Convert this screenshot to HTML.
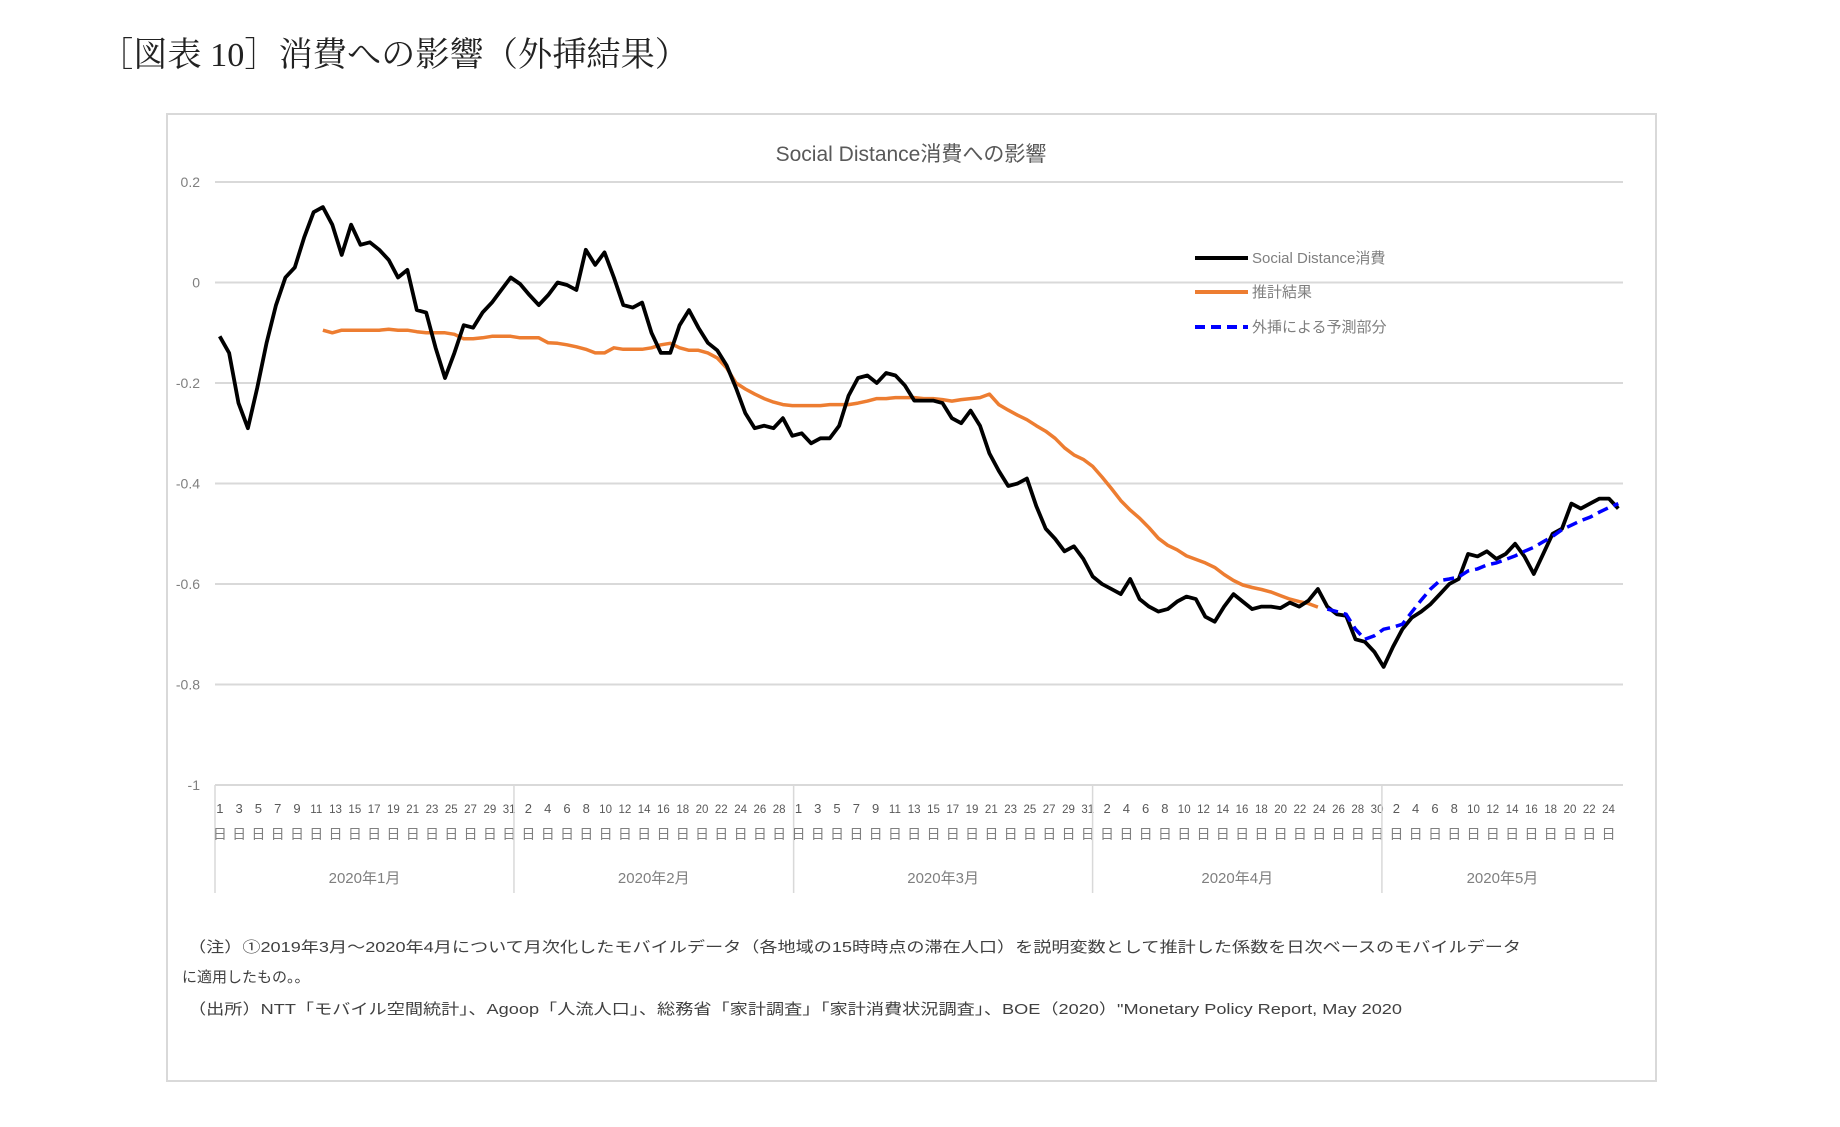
<!DOCTYPE html>
<html><head><meta charset="utf-8"><style>
html,body{margin:0;padding:0;background:#fff;width:1840px;height:1127px;overflow:hidden}
svg{display:block}
</style></head><body>
<svg id="chart" width="1840" height="1127" viewBox="0 0 1840 1127" xmlns="http://www.w3.org/2000/svg">
<text x="99" y="66" font-family="'Liberation Serif','Noto Serif CJK SC',serif" font-size="34" fill="#222" textLength="590" lengthAdjust="spacingAndGlyphs">［図表 10］消費への影響（外挿結果）</text>
<rect x="167" y="114" width="1489" height="967" fill="#fff" stroke="#d9d9d9" stroke-width="2"/>
<text x="911" y="161" text-anchor="middle" font-family="'Liberation Sans','Noto Sans CJK JP',sans-serif" font-size="21" fill="#595959">Social Distance消費への影響</text>
<g id="grid"></g><g id="xaxis"></g><g id="series"></g>
<g font-family="'Liberation Sans','Noto Sans CJK JP',sans-serif" font-size="15" fill="#7f7f7f">
<line x1="1195" y1="258" x2="1248" y2="258" stroke="#000" stroke-width="4"/>
<text x="1252" y="263">Social Distance消費</text>
<line x1="1195" y1="292" x2="1248" y2="292" stroke="#ed7d31" stroke-width="4"/>
<text x="1252" y="297">推計結果</text>
<line x1="1195" y1="327" x2="1248" y2="327" stroke="#0000ff" stroke-width="4" stroke-dasharray="10,6"/>
<text x="1252" y="332">外挿による予測部分</text>
</g>
<g font-family="'Liberation Sans','Noto Sans CJK JP',sans-serif" font-size="15" fill="#404040">
<text x="188" y="952" textLength="1333" lengthAdjust="spacingAndGlyphs">（注）①2019年3月～2020年4月について月次化したモバイルデータ（各地域の15時時点の滞在人口）を説明変数として推計した係数を日次ベースのモバイルデータ</text>
<text x="182" y="982">に適用したもの。。</text>
<text x="188" y="1014" textLength="1214" lengthAdjust="spacingAndGlyphs">（出所）NTT「モバイル空間統計」、Agoop「人流人口」、総務省「家計調査」「家計消費状況調査」、BOE（2020）"Monetary Policy Report, May 2020</text>
</g>
</svg>
<script>
const yTicks=[0.2,0,-0.2,-0.4,-0.6,-0.8,-1];
const yTickLabels=["0.2","0","-0.2","-0.4","-0.6","-0.8","-1"];
const months=["2020年1月","2020年2月","2020年3月","2020年4月","2020年5月"];
const monthDays=[31,29,31,30,25];
const socialDistance=[-0.107,-0.14,-0.24,-0.29,-0.21,-0.12,-0.045,0.01,0.03,0.09,0.14,0.15,0.115,0.055,0.115,0.075,0.08,0.065,0.045,0.01,0.025,-0.055,-0.06,-0.13,-0.19,-0.14,-0.085,-0.09,-0.06,-0.04,-0.015,0.01,
-0.003,-0.025,-0.045,-0.025,0.0,-0.005,-0.015,0.065,0.035,0.06,0.01,-0.045,-0.05,-0.04,-0.1,-0.14,-0.14,-0.085,-0.055,-0.09,-0.12,-0.135,-0.165,-0.21,-0.26,-0.29,-0.285,-0.29,-0.27,
-0.305,-0.30,-0.32,-0.31,-0.31,-0.285,-0.225,-0.19,-0.185,-0.2,-0.18,-0.185,-0.205,-0.235,-0.235,-0.235,-0.24,-0.27,-0.28,-0.255,-0.285,-0.34,-0.375,-0.405,-0.40,-0.39,-0.445,-0.49,-0.51,-0.535,-0.525,-0.55,
-0.585,-0.60,-0.61,-0.62,-0.59,-0.63,-0.645,-0.655,-0.65,-0.635,-0.625,-0.63,-0.665,-0.675,-0.645,-0.62,-0.635,-0.65,-0.645,-0.645,-0.648,-0.637,-0.645,-0.633,-0.61,-0.645,-0.66,-0.663,-0.71,-0.715,-0.735,
-0.765,-0.725,-0.69,-0.667,-0.655,-0.64,-0.62,-0.60,-0.59,-0.54,-0.545,-0.535,-0.55,-0.54,-0.52,-0.545,-0.58,-0.54,-0.5,-0.49,-0.44,-0.45,-0.44,-0.43,-0.43,-0.45];
const estimateStart=11;
const estimate=[-0.095,-0.10,-0.095,-0.095,-0.095,-0.095,-0.095,-0.093,-0.095,-0.095,-0.098,-0.10,-0.10,-0.10,-0.103,-0.112,-0.112,-0.11,-0.107,-0.107,-0.107,-0.11,-0.11,-0.11,-0.12,-0.121,-0.124,-0.128,-0.133,-0.14,-0.14,-0.13,-0.133,-0.133,-0.133,-0.13,-0.124,-0.121,-0.13,-0.135,-0.135,-0.14,-0.15,-0.17,-0.2,-0.212,-0.222,-0.231,-0.238,-0.243,-0.245,-0.245,-0.245,-0.245,-0.243,-0.243,-0.243,-0.24,-0.236,-0.231,-0.231,-0.229,-0.229,-0.229,-0.231,-0.231,-0.233,-0.236,-0.233,-0.231,-0.229,-0.222,-0.243,-0.254,-0.264,-0.273,-0.285,-0.296,-0.31,-0.329,-0.343,-0.352,-0.366,-0.387,-0.41,-0.434,-0.453,-0.469,-0.488,-0.509,-0.523,-0.532,-0.544,-0.551,-0.558,-0.567,-0.581,-0.593,-0.602,-0.607,-0.611,-0.616,-0.623,-0.63,-0.635,-0.639,-0.646];
const forecastStart=118;
const forecast=[-0.65,-0.655,-0.66,-0.69,-0.71,-0.703,-0.69,-0.686,-0.68,-0.656,-0.632,-0.61,-0.593,-0.59,-0.586,-0.574,-0.57,-0.562,-0.558,-0.551,-0.544,-0.535,-0.527,-0.516,-0.505,-0.492,-0.483,-0.474,-0.467,-0.457,-0.448,-0.44];

const NS="http://www.w3.org/2000/svg";
const L=215,R=1623,Y0=182,Y1=785;
const N=socialDistance.length;
const xS=i=>L+(i+0.5)*(R-L)/N;
const yS=v=>Y0+(0.2-v)/1.2*(Y1-Y0);
function mk(tag,attrs,parent,txt){const e=document.createElementNS(NS,tag);for(const k in attrs)e.setAttribute(k,attrs[k]);if(txt!==undefined)e.textContent=txt;parent.appendChild(e);return e;}
const grid=document.getElementById('grid');
yTicks.forEach((t,k)=>{
  const g=mk('line',{x1:L,x2:R,y1:yS(t),y2:yS(t),stroke:'#d9d9d9','stroke-width':2},grid);
  
  
  const tx=mk('text',{x:200,y:yS(t)+5,'text-anchor':'end','font-family':"'Liberation Sans',sans-serif",'font-size':14,fill:'#7f7f7f'},grid,yTickLabels[k]);
  
  
});
const xa=document.getElementById('xaxis');
const dayW=(R-L)/monthDays.reduce((a,b)=>a+b,0);
let start=0;
const fam="'Liberation Sans','Noto Sans CJK JP',sans-serif";
monthDays.forEach((d,m)=>{
  const x0=L+start*dayW;
  const sep=mk('line',{x1:x0,x2:x0,y1:Y1,y2:893,stroke:'#d9d9d9','stroke-width':1.5},xa);
  
  
  for(let day=1;day<=d;day++){
    if((start+day-1)%2!==0) continue;
    const cx=L+(start+day-0.5)*dayW;
    const t=mk('text',{x:cx,y:813,'text-anchor':'middle','font-family':fam,'font-size':day>=10?11.5:13,fill:'#595959'},xa,String(day));
    
    
    const t2=mk('text',{x:cx,y:839,'text-anchor':'middle','font-family':fam,'font-size':14,fill:'#7f7f7f'},xa,'日');
    
    
  }
  const mx=L+(start+d/2)*dayW;
  const ml=mk('text',{x:mx,y:883,'text-anchor':'middle','font-family':fam,'font-size':15,fill:'#7f7f7f'},xa,months[m]);
  
  
  start+=d;
});
const se=document.getElementById('series');
function path(arr,off){return arr.map((v,i)=>(i?'L':'M')+xS(i+off).toFixed(1)+','+yS(v).toFixed(1)).join(' ');}
const po=mk('path',{d:path(estimate,estimateStart),fill:'none',stroke:'#ed7d31','stroke-width':3.5,'stroke-linejoin':'round'},se);


const pb=mk('path',{d:path(socialDistance,0),fill:'none',stroke:'#000','stroke-width':3.8,'stroke-linejoin':'round'},se);


const pf=mk('path',{d:path(forecast,forecastStart),fill:'none',stroke:'#0000ff','stroke-width':3.5,'stroke-dasharray':'11,6'},se);


</script>
</body></html>
